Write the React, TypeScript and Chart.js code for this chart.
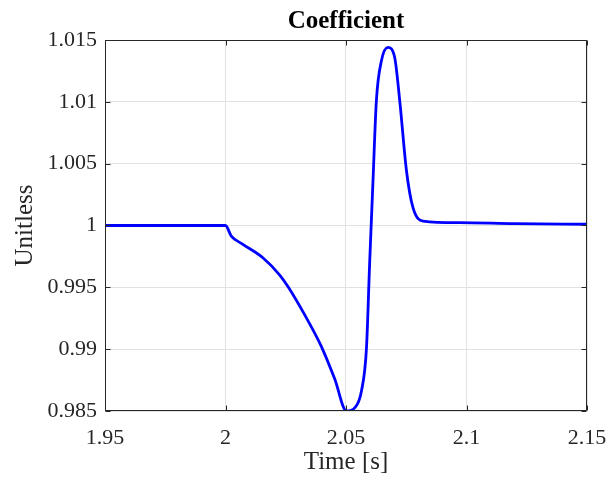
import React, { useEffect, useRef } from "react";
import { Chart, registerables } from "chart.js";

Chart.register(...registerables);

const times = [
  1.95, 2.0, 2.0024, 2.0072, 2.0155, 2.0225, 2.0259, 2.033, 2.0398, 2.0453,
  2.0502, 2.0536, 2.0564, 2.0585, 2.0598, 2.0612, 2.0626, 2.0647, 2.0674,
  2.0702, 2.0723, 2.0751, 2.0778, 2.082, 2.0972, 2.12, 2.15,
];
const coefficient = [
  1.0, 1.0, 0.99915, 0.99848, 0.99739, 0.99599, 0.99507, 0.99273, 0.99021,
  0.9876, 0.985, 0.98525, 0.9866, 0.99011, 0.9969, 1.0036, 1.01008, 1.01332,
  1.0144, 1.01359, 1.01008, 1.00441, 1.00144, 1.00036, 1.00023, 1.00015,
  1.0001,
];
const xTicks = [1.95, 2, 2.05, 2.1, 2.15];
const yTicks = [0.985, 0.99, 0.995, 1, 1.005, 1.01, 1.015];
const chartTitle = "Coefficient";

const SERIF = "'Liberation Serif', 'Times New Roman', serif";
const AXIS_COLOR = "#262626";

const boxPlugin = {
  id: "matlabBox",
  afterDraw(chart: any) {
    const { ctx, chartArea } = chart;
    const { left, top, right, bottom } = chartArea;
    const xs = chart.scales.x;
    const ys = chart.scales.y;
    ctx.save();
    ctx.strokeStyle = AXIS_COLOR;
    ctx.lineWidth = 1;
    const L = Math.round(left) + 0.5;
    const R = Math.round(right) - 0.5;
    const T = Math.round(top) + 0.5;
    const B = Math.round(bottom) - 0.5;
    ctx.beginPath();
    ctx.rect(L, T, R - L, B - T);
    const tl = 5;
    xTicks.forEach((v) => {
      const px = Math.round(xs.getPixelForValue(v)) + 0.5;
      ctx.moveTo(px, B);
      ctx.lineTo(px, B - tl);
      ctx.moveTo(px, T);
      ctx.lineTo(px, T + tl);
    });
    yTicks.forEach((v) => {
      const py = Math.round(ys.getPixelForValue(v)) + 0.5;
      ctx.moveTo(L, py);
      ctx.lineTo(L + tl, py);
      ctx.moveTo(R, py);
      ctx.lineTo(R - tl, py);
    });
    ctx.stroke();
    // title centred over the plot area
    ctx.fillStyle = "#000000";
    ctx.font = `bold 25px ${SERIF}`;
    ctx.textAlign = "center";
    ctx.textBaseline = "alphabetic";
    ctx.fillText(chartTitle, (left + right) / 2, 28);
    ctx.restore();
  },
};

export default function App() {
  const canvasRef = useRef<HTMLCanvasElement | null>(null);

  useEffect(() => {
    if (!canvasRef.current) return;
    const chart = new Chart(canvasRef.current, {
      type: "line",
      data: {
        datasets: [
          {
            label: chartTitle,
            data: times.map((t, i) => ({ x: t, y: coefficient[i] })),
            borderColor: "#0000ff",
            backgroundColor: "#0000ff",
            borderWidth: 2.8,
            pointRadius: 0,
            cubicInterpolationMode: "monotone",
            fill: false,
          },
        ],
      },
      options: {
        responsive: false,
        animation: false,
        events: [],
        layout: { padding: { left: 0, right: 24, top: 40, bottom: 0 } },
        plugins: {
          legend: { display: false },
          tooltip: { enabled: false },
          title: { display: false },
        },
        scales: {
          x: {
            type: "linear",
            min: 1.95,
            max: 2.15,
            afterBuildTicks: (scale: any) => {
              scale.ticks = xTicks.map((v) => ({ value: v }));
            },
            afterFit: (scale: any) => {
              scale.height = 72;
              scale.paddingLeft = 0;
              scale.paddingRight = 0;
            },
            grid: { color: "#e2e2e2", lineWidth: 1, drawTicks: false },
            border: { display: false },
            ticks: {
              color: AXIS_COLOR,
              font: { family: SERIF, size: 22, lineHeight: 1.2 },
              padding: 14,
              maxRotation: 0,
              autoSkip: false,
              callback: (v: any) => String(Number(Number(v).toFixed(4))),
            },
            title: {
              display: true,
              text: "Time [s]",
              color: AXIS_COLOR,
              font: { family: SERIF, size: 25, lineHeight: 1.2 },
              padding: { top: 0, bottom: 6 },
            },
          },
          y: {
            type: "linear",
            min: 0.985,
            max: 1.015,
            afterBuildTicks: (scale: any) => {
              scale.ticks = yTicks.map((v) => ({ value: v }));
            },
            afterFit: (scale: any) => {
              scale.width = 105;
              scale.paddingTop = 0;
              scale.paddingBottom = 0;
            },
            grid: { color: "#e2e2e2", lineWidth: 1, drawTicks: false },
            border: { display: false },
            ticks: {
              color: AXIS_COLOR,
              font: { family: SERIF, size: 22, lineHeight: 1.2 },
              padding: 8,
              autoSkip: false,
              callback: (v: any) => String(Number(Number(v).toFixed(4))),
            },
            title: {
              display: true,
              text: "Unitless",
              color: AXIS_COLOR,
              font: { family: SERIF, size: 25, lineHeight: 1.2 },
              padding: { top: 10, bottom: 0 },
            },
          },
        },
      },
      plugins: [boxPlugin],
    });
    return () => chart.destroy();
  }, []);

  return (
    <div style={{ position: "fixed", left: 0, top: 0, width: 611, height: 483, background: "#ffffff" }}>
      <canvas ref={canvasRef} width={611} height={483} />
    </div>
  );
}
